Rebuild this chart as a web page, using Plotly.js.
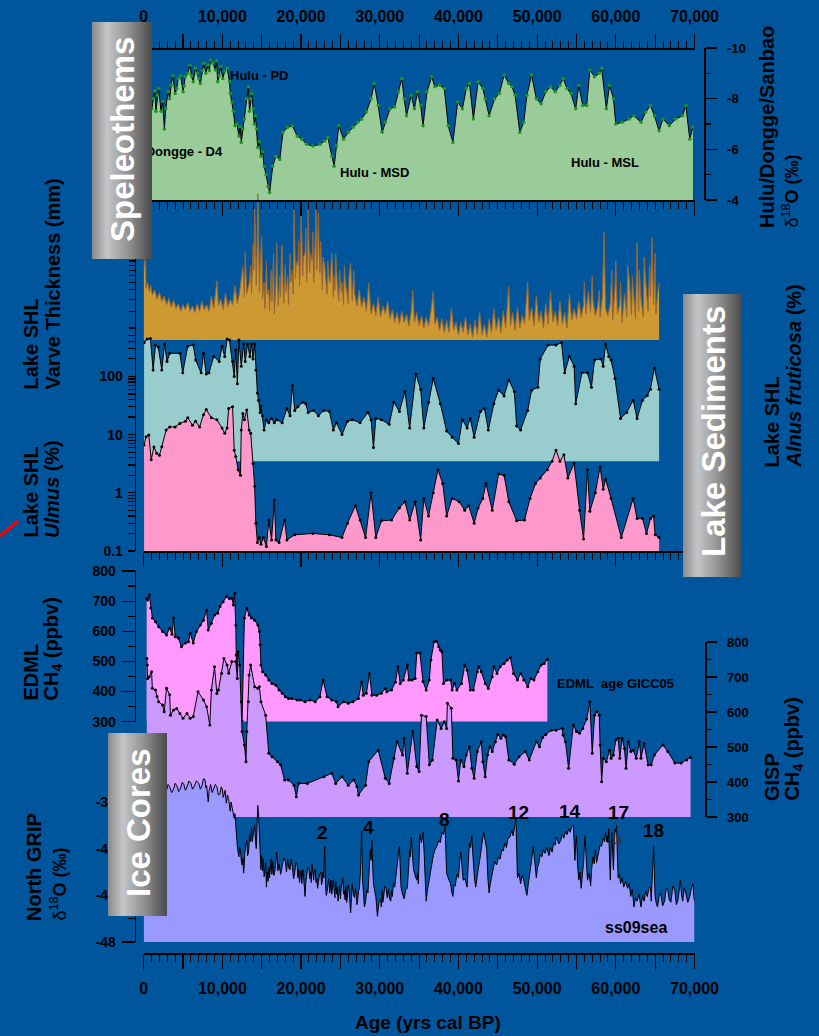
<!DOCTYPE html>
<html><head><meta charset="utf-8">
<script src="https://cdn.plot.ly/plotly-3.0.1.min.js"></script>
<style>html,body{margin:0;padding:0;background:#00569d;}#chart{width:819px;height:1036px;}</style>
</head><body><div id="chart"></div>
<script>
// ---------- DATA (age in ka BP, value) ----------
const spel = [[0.1,-7.9],[0.3,-8.3],[0.5,-7.4],[0.75,-7.2],[1.03,-7.6],[1.2,-8.0],[1.4,-8.3],[1.55,-7.5],[1.74,-8.13],[1.9,-8.4],[2.2,-7.5],[2.4,-7.9],[2.63,-6.8],[2.8,-7.6],[3.1,-8.27],[3.3,-8.0],[3.5,-8.53],[3.7,-8.9],[4.0,-8.2],[4.2,-8.4],[4.4,-8.8],[4.7,-8.9],[5.0,-8.27],[5.15,-8.5],[5.3,-8.87],[5.6,-9.0],[5.9,-9.33],[6.05,-8.9],[6.3,-8.67],[6.55,-9.2],[6.8,-9.0],[7.0,-8.8],[7.2,-8.6],[7.45,-9.1],[7.65,-9.4],[7.9,-9.0],[8.2,-9.33],[8.35,-9.1],[8.5,-9.53],[8.8,-9.4],[9.1,-9.13],[9.25,-9.5],[9.4,-8.67],[9.6,-8.9],[9.8,-9.27],[10.05,-8.8],[10.3,-9.07],[10.6,-9.2],[10.9,-8.67],[11.0,-8.2],[11.2,-7.87],[11.4,-7.5],[11.6,-6.93],[11.85,-7.0],[12.1,-6.53],[12.25,-6.9],[12.4,-6.27],[12.6,-6.8],[12.8,-7.2],[13.05,-8.0],[13.3,-8.47],[13.45,-7.5],[13.6,-8.0],[13.75,-8.2],[13.9,-7.6],[14.05,-7.0],[14.2,-7.33],[14.35,-6.8],[14.5,-6.07],[14.7,-6.3],[14.9,-5.73],[15.1,-5.9],[15.3,-5.33],[15.55,-5.0],[15.8,-4.53],[16.0,-4.3],[16.4,-5.33],[16.8,-5.73],[17.3,-5.6],[17.7,-6.67],[18.3,-6.87],[18.9,-6.93],[19.5,-6.53],[20.1,-6.4],[20.7,-6.2],[21.5,-6.13],[22.4,-6.2],[23.0,-6.33],[23.4,-6.47],[23.9,-5.73],[24.2,-5.33],[24.5,-6.13],[24.8,-6.93],[25.4,-6.4],[26.0,-6.67],[26.6,-6.87],[27.2,-7.07],[27.7,-7.2],[28.3,-7.47],[28.9,-8.0],[29.3,-8.6],[29.8,-7.73],[30.3,-6.67],[30.7,-7.07],[31.3,-7.6],[31.9,-7.67],[32.4,-8.27],[32.8,-8.8],[33.1,-8.0],[33.4,-7.33],[34.0,-8.13],[34.4,-7.6],[34.8,-8.27],[35.2,-7.73],[35.5,-6.93],[36.0,-8.27],[36.6,-8.87],[37.0,-8.47],[37.6,-8.53],[38.2,-8.4],[38.7,-6.93],[39.3,-6.27],[39.9,-7.87],[40.5,-7.6],[41.0,-8.4],[41.4,-8.6],[41.9,-7.2],[42.5,-8.67],[43.1,-8.4],[43.4,-8.0],[43.9,-7.33],[44.6,-8.0],[45.2,-8.2],[45.8,-8.93],[46.4,-8.6],[46.8,-8.47],[47.2,-8.13],[47.8,-6.67],[48.3,-7.07],[48.7,-8.13],[49.3,-8.93],[49.9,-8.0],[50.5,-7.8],[51.1,-8.27],[51.7,-8.47],[52.3,-8.27],[52.9,-8.53],[53.3,-8.8],[53.8,-8.4],[54.3,-8.2],[54.9,-7.6],[55.3,-8.53],[55.8,-7.73],[56.3,-7.73],[56.7,-9.13],[57.3,-8.87],[57.9,-9.0],[58.2,-9.2],[58.8,-7.6],[59.2,-8.53],[59.7,-8.0],[60.0,-7.0],[60.8,-7.07],[61.7,-7.2],[62.3,-7.33],[63.2,-7.07],[63.8,-7.47],[64.4,-7.73],[64.9,-7.33],[65.5,-6.73],[66.0,-7.2],[66.8,-6.93],[67.6,-7.2],[68.5,-7.33],[68.9,-7.73],[69.4,-6.4],[69.8,-6.87]];

const varve = [[0.0,7.5],[0.05,12],[0.15,9.0],[0.25,10],[0.3,5.2],[0.5,6.0],[0.7,4.8],[0.9,5.6],[1.1,4.4],[1.4,5.0],[1.7,4.0],[2.0,4.7],[2.3,3.8],[2.6,4.3],[2.9,3.5],[3.2,4.1],[3.5,3.3],[3.8,3.9],[4.1,3.2],[4.4,3.6],[4.7,3.0],[5.0,3.5],[5.3,3.1],[5.6,3.7],[5.9,3.0],[6.2,3.4],[6.5,2.9],[6.8,3.6],[7.1,3.0],[7.4,3.8],[7.7,3.1],[8.0,3.5],[8.3,3.0],[8.6,4.3],[8.9,3.2],[9.3,6.2],[9.5,3.4],[9.8,4.0],[10.1,3.1],[10.4,4.6],[10.7,3.3],[11.0,4.0],[11.3,3.5],[11.6,5.5],[11.9,3.6],[12.2,4.8],[12.4,6.5],[12.6,8.7],[12.8,4.2],[12.9,12.5],[13.0,7.5],[13.1,4.6],[13.4,5.8],[13.6,9],[13.7,4.5],[13.9,15],[14.0,8],[14.1,35],[14.2,20],[14.3,5.5],[14.4,12],[14.5,50],[14.6,25],[14.7,4.8],[14.8,9],[14.9,13],[15.0,18],[15.1,4.0],[15.3,6],[15.4,3.2],[15.6,10],[15.7,4.5],[15.9,5],[16.0,3.0],[16.2,8],[16.3,3.8],[16.5,12],[16.6,2.8],[16.8,6],[16.9,15.4],[17.0,9],[17.1,3.4],[17.3,7],[17.4,4.2],[17.5,11],[17.6,14.7],[17.7,6],[17.8,3.6],[18.0,9],[18.1,4.8],[18.3,7],[18.4,3.5],[18.6,12],[18.7,6.0],[18.9,8],[19.0,4.5],[19.1,34],[19.2,14],[19.3,6.5],[19.4,10],[19.6,9.0],[19.7,16],[19.8,5.5],[19.9,9],[20.0,30],[20.1,18],[20.2,7.0],[20.3,11],[20.5,12],[20.6,22],[20.7,6.0],[20.8,9],[20.9,34],[21.0,15],[21.1,7.5],[21.2,12],[21.4,10],[21.5,20],[21.6,6.0],[21.7,9],[21.8,18],[21.9,34],[22.0,8.0],[22.1,14],[22.2,31.6],[22.3,12],[22.4,7.5],[22.5,16],[22.6,8],[22.7,5.0],[22.8,11],[23.0,9.0],[23.1,7],[23.3,4.5],[23.4,10],[23.6,6.0],[23.7,6],[23.9,12],[24.0,9],[24.1,4.2],[24.2,7],[24.3,5.0],[24.4,12],[24.5,7.5],[24.6,6],[24.8,3.8],[24.9,8],[25.1,4.8],[25.2,6],[25.4,3.5],[25.5,9],[25.7,5.4],[25.8,5],[26.0,3.6],[26.1,7],[26.3,9.5],[26.4,5],[26.5,3.8],[26.7,8],[26.8,4.6],[27.1,3.4],[27.4,5.0],[27.7,3.3],[28.0,4.2],[28.3,3.0],[28.6,5.9],[28.9,2.8],[29.2,3.6],[29.5,2.7],[29.8,4.2],[30.1,2.6],[30.4,3.4],[30.7,2.8],[31.0,3.8],[31.3,2.5],[31.6,3.1],[31.9,2.3],[32.2,2.9],[32.5,2.2],[32.8,3.0],[33.1,2.3],[33.4,2.8],[33.7,2.1],[34.0,3.0],[34.2,5.0],[34.4,2.3],[34.7,2.9],[35.0,2.1],[35.3,2.7],[35.6,2.0],[35.9,2.6],[36.2,2.1],[36.5,3.0],[36.8,4.8],[37.0,2.2],[37.3,2.6],[37.6,1.9],[37.9,2.5],[38.2,1.8],[38.5,2.4],[38.8,1.8],[39.1,3.2],[39.4,1.9],[39.7,2.3],[40.0,1.7],[40.3,2.3],[40.6,1.8],[40.9,2.6],[41.2,1.7],[41.5,2.2],[41.8,1.6],[42.1,2.4],[42.4,1.7],[42.7,2.9],[43.0,1.7],[43.3,2.2],[43.6,1.6],[43.9,2.5],[44.2,1.8],[44.5,3.2],[44.8,1.9],[45.1,2.6],[45.4,1.8],[45.7,3.0],[46.0,2.0],[46.4,5.4],[46.6,2.1],[46.9,2.9],[47.2,1.9],[47.5,3.3],[47.8,2.0],[48.1,2.7],[48.4,2.2],[48.8,6.0],[49.0,2.4],[49.3,3.3],[49.6,2.1],[49.9,4.3],[50.2,2.3],[50.5,3.0],[50.8,2.0],[51.1,3.6],[51.4,2.2],[51.7,4.8],[52.0,2.3],[52.3,3.0],[52.6,2.1],[52.9,3.8],[53.2,2.2],[53.5,2.9],[53.8,2.0],[54.1,4.5],[54.4,2.4],[54.7,3.2],[55.0,2.5],[55.3,3.8],[55.6,2.6],[55.9,3.5],[56.0,6],[56.2,2.8],[56.5,4.8],[56.8,2.9],[57.0,7],[57.1,3.8],[57.4,2.7],[57.7,3.4],[57.9,5],[58.0,2.6],[58.3,4.2],[58.5,20],[58.7,3.2],[59.0,2.7],[59.3,3.6],[59.5,8],[59.6,2.4],[59.9,5.3],[60.0,10],[60.2,2.8],[60.5,3.5],[60.6,6],[60.8,2.3],[61.1,4.6],[61.4,2.6],[61.5,9],[61.7,6.5],[62.0,2.7],[62.1,7],[62.3,3.8],[62.5,2.5],[62.7,15.4],[62.9,3.0],[63.0,8],[63.2,4.0],[63.5,2.6],[63.6,11],[63.8,6.0],[64.1,3.0],[64.3,9],[64.4,4.2],[64.6,17.4],[64.8,3.5],[65.0,12],[65.1,2.8],[65.3,4.5],[65.5,5.9]];

const alnus = [[0.05,380],[0.45,440],[0.85,450],[1.2,129],[1.5,345],[1.85,320],[2.3,129],[2.65,360],[2.97,180],[3.3,250],[4.6,250],[4.96,115],[5.6,330],[6.3,345],[6.6,191],[7.3,115],[7.6,250],[7.95,110],[8.3,115],[8.9,220],[9.6,180],[9.95,330],[10.3,220],[10.6,440],[10.9,420],[11.3,180],[11.5,100],[11.7,284],[11.9,75],[12.1,420],[12.4,150],[12.7,360],[12.9,180],[13.2,360],[13.5,220],[13.7,360],[13.9,200],[14.1,360],[14.25,129],[14.45,52],[14.6,39],[14.8,24],[14.9,31],[15.1,21],[15.3,12],[15.6,17.8],[15.9,16],[16.25,19],[16.6,16],[16.9,18],[17.6,16],[18.2,28],[18.6,21],[18.9,70],[19.2,26],[19.6,30],[20.2,36],[20.6,34],[20.9,24],[21.6,26],[22.2,21],[22.9,26],[23.6,25],[24.1,12],[24.5,16],[25.2,10],[25.9,17],[26.5,18],[27.5,16],[28.5,24],[28.9,18],[29.2,6.0],[29.5,19],[30.2,18],[31.2,15],[31.8,36],[32.5,25],[33.2,55],[33.8,13],[34.6,110],[35.2,60],[35.6,13],[36.2,36],[36.8,92],[37.7,34],[38.5,11.5],[39.2,9],[40.0,7],[40.5,18],[41.1,13],[41.5,19],[42.0,9],[42.8,25],[43.3,28],[43.8,12],[44.5,34],[45.1,58],[45.8,46],[46.4,87],[47.1,55],[47.4,14],[47.9,12],[48.8,26],[49.3,58],[50.1,65],[50.4,200],[51.4,345],[52.4,345],[53.1,380],[53.5,115],[54.1,220],[54.7,150],[54.9,34],[55.7,115],[56.4,115],[56.9,65],[57.3,191],[58.1,200],[58.4,150],[58.7,360],[59.1,220],[59.4,191],[59.9,92],[60.6,19],[61.4,24],[62.2,39],[62.7,19],[63.4,39],[64.0,47],[64.4,60],[64.9,140],[65.5,60]];

const ulmus = [[0.05,6.6],[0.3,9.2],[0.65,9.8],[0.95,3.7],[1.3,6.1],[1.65,4.8],[2.0,4.4],[2.3,6.2],[2.85,12],[3.3,13.5],[4.0,13.5],[4.6,15.5],[5.3,17],[5.6,19.5],[6.2,14.5],[6.6,17],[7.1,13.5],[7.6,22],[7.95,27],[8.6,19.5],[9.3,18],[9.95,13],[10.3,10.5],[10.6,13],[10.8,28],[11.3,30],[11.5,5.4],[11.7,4.2],[12.0,2.5],[12.3,2.0],[12.4,12],[12.6,23],[12.8,18],[13.1,26.5],[13.4,12],[13.6,10.5],[13.9,3.2],[14.1,1.3],[14.25,0.3],[14.45,0.14],[14.7,0.17],[14.9,0.13],[15.2,0.17],[15.6,0.12],[15.9,0.34],[16.25,0.155],[16.6,0.75],[16.8,0.155],[17.2,0.14],[17.9,0.34],[18.2,0.155],[19.2,0.19],[21.5,0.2],[23.6,0.19],[25.2,0.17],[25.9,0.3],[26.9,0.6],[27.5,0.34],[28.2,0.17],[28.9,1.0],[29.5,0.17],[30.2,0.33],[31.5,0.34],[32.5,0.55],[33.2,0.7],[33.8,0.34],[34.5,0.7],[35.2,0.155],[35.6,0.8],[36.2,0.4],[36.8,1.0],[37.4,2.5],[38.0,1.45],[38.5,0.4],[39.2,0.8],[40.1,0.7],[40.8,0.5],[41.3,0.6],[42.0,0.3],[42.5,0.55],[43.1,0.8],[43.5,1.45],[44.3,0.5],[45.1,2.1],[45.8,2.0],[46.4,0.7],[47.4,0.33],[48.4,0.34],[49.1,0.8],[49.8,1.45],[50.4,1.8],[51.3,2.5],[51.9,3.5],[52.4,5.4],[52.9,3.5],[53.4,4.5],[53.9,1.8],[54.7,3.2],[55.4,0.5],[55.9,0.16],[56.4,2.5],[56.7,0.48],[57.4,1.0],[58.0,2.8],[58.4,1.15],[58.7,1.7],[59.4,0.8],[60.7,0.17],[62.2,0.8],[62.7,0.36],[63.4,0.36],[63.9,0.2],[64.4,0.36],[64.8,0.4],[65.0,0.19],[65.5,0.17]];

const edml = [[0.38,709],[0.5,704],[0.72,720],[0.9,677],[1.1,644],[1.5,632],[1.9,615],[2.4,599],[2.9,588],[3.3,611],[3.6,590],[3.8,644],[4.0,582],[4.4,578],[4.8,549],[5.3,561],[5.7,565],[5.9,594],[6.3,561],[6.7,599],[7.2,621],[7.6,637],[8.0,670],[8.2,604],[8.6,627],[9.0,654],[9.4,660],[9.7,682],[10.1,698],[10.5,715],[10.9,709],[11.2,710],[11.4,687],[11.55,726],[11.7,621],[11.75,521],[11.8,333],[11.9,303],[12.5,302],[12.8,644],[13.1,677],[13.4,654],[13.7,644],[14.1,637],[14.5,621],[14.7,599],[14.8,555],[14.9,488],[15.1,466],[15.5,455],[15.9,438],[16.3,427],[16.8,421],[17.2,405],[17.6,394],[18.0,383],[18.4,377],[18.8,377],[19.5,372],[19.9,372],[20.5,366],[21.1,372],[21.8,366],[22.4,383],[22.8,438],[23.3,383],[23.9,372],[24.5,366],[24.7,350],[25.4,366],[26.0,361],[26.6,366],[27.3,377],[27.7,432],[27.9,388],[28.3,394],[28.7,460],[29.0,388],[29.6,388],[30.2,394],[30.7,410],[30.9,399],[31.5,405],[32.0,432],[32.3,482],[32.6,427],[33.0,438],[33.5,488],[33.7,438],[34.1,438],[34.5,443],[34.7,528],[35.1,528],[35.5,433],[35.9,405],[36.3,438],[36.5,505],[36.9,565],[37.2,567],[37.5,549],[37.7,538],[37.9,532],[38.1,427],[38.5,438],[39.0,438],[39.2,405],[39.5,427],[39.8,405],[40.4,427],[40.8,488],[41.1,471],[41.5,405],[41.9,405],[42.4,466],[42.6,482],[42.9,466],[43.4,427],[43.8,410],[44.3,449],[44.5,482],[44.9,460],[45.3,482],[45.8,493],[46.2,505],[46.6,512],[47.0,460],[47.5,438],[47.9,460],[48.3,438],[48.8,416],[49.2,443],[49.6,438],[50.1,466],[50.5,488],[50.9,493],[51.3,507]];

const gisp = [[0.4,753],[0.45,734],[0.5,696],[0.7,701],[1.0,715],[1.1,668],[1.5,663],[1.7,644],[1.9,629],[2.4,620],[2.6,601],[2.9,668],[3.3,649],[3.4,591],[3.8,606],[4.2,610],[4.6,596],[5.0,582],[5.5,596],[5.9,582],[6.3,587],[6.9,658],[7.6,634],[8.0,615],[8.4,563],[8.6,663],[9.0,729],[9.3,653],[9.5,663],[9.9,711],[10.2,753],[10.6,734],[10.8,711],[11.2,744],[11.7,744],[11.9,696],[12.0,772],[12.2,734],[12.4,629],[12.5,544],[12.8,506],[13.0,458],[13.1,544],[13.3,629],[13.4,706],[13.6,734],[14.1,672],[14.5,668],[14.7,672],[14.9,629],[15.5,591],[15.9,482],[16.3,472],[17.0,458],[17.4,449],[17.9,406],[18.4,406],[19.1,391],[19.4,358],[19.7,396],[20.8,396],[22.9,415],[23.9,425],[24.4,396],[25.2,415],[26.0,391],[26.7,406],[27.1,387],[27.3,363],[28.2,391],[28.6,458],[29.8,491],[30.7,411],[31.2,396],[31.8,468],[32.2,515],[32.9,477],[33.1,525],[33.5,425],[34.2,544],[34.7,444],[35.0,430],[35.3,591],[35.9,587],[36.3,449],[36.7,463],[37.3,577],[37.8,553],[38.2,572],[38.5,553],[38.6,625],[39.1,611],[39.3,468],[39.7,463],[40.0,403],[40.3,463],[40.7,444],[41.0,477],[41.4,501],[41.7,439],[42.0,411],[42.4,487],[42.9,515],[43.1,458],[43.4,415],[43.7,477],[44.0,501],[44.3,487],[44.7,515],[45.0,536],[45.4,525],[45.7,534],[46.0,529],[46.4,463],[47.1,451],[47.7,472],[48.5,487],[49.0,463],[49.9,515],[50.3,501],[50.7,527],[51.1,536],[51.8,548],[52.4,548],[53.2,553],[53.3,534],[53.6,515],[54.0,439],[54.6,563],[55.0,544],[55.4,539],[55.8,553],[56.3,580],[56.7,629],[57.0,482],[57.3,591],[57.6,601],[57.9,591],[58.0,506],[58.2,401],[58.4,468],[58.8,458],[59.2,491],[59.4,468],[59.7,477],[60.0,520],[60.3,525],[60.5,468],[60.8,525],[61.1,496],[61.3,439],[61.6,515],[61.9,487],[62.2,491],[62.6,468],[63.0,515],[63.2,468],[63.6,510],[64.1,449],[64.5,449],[64.9,477],[66.0,506],[66.6,487],[67.5,454],[68.3,454],[69.0,463],[69.5,470]];

const ngrip = [[0.0,-34.8],[0.2,-35.3],[0.4,-35.1],[0.6,-34.6],[0.8,-34.7],[1.0,-35.3],[1.2,-35.2],[1.4,-34.7],[1.6,-34.9],[1.8,-35.4],[2.0,-35.1],[2.2,-34.6],[2.4,-34.8],[2.65,-35.3],[2.9,-35.0],[3.1,-34.5],[3.3,-34.7],[3.55,-35.2],[3.8,-34.9],[4.0,-34.4],[4.2,-34.6],[4.45,-35.1],[4.7,-34.8],[4.9,-34.3],[5.1,-34.5],[5.3,-35.0],[5.5,-34.7],[5.75,-34.2],[6.0,-34.4],[6.2,-34.9],[6.4,-34.7],[6.7,-34.2],[7.0,-34.4],[7.2,-34.9],[7.4,-34.6],[7.6,-34.0],[7.8,-34.1],[7.9,-34.8],[8.0,-34.6],[8.2,-36.0],[8.3,-35.1],[8.4,-34.8],[8.5,-34.5],[8.7,-35.2],[8.9,-34.9],[9.1,-34.5],[9.3,-34.7],[9.5,-35.4],[9.7,-35.3],[9.85,-34.7],[10.0,-34.9],[10.1,-35.6],[10.2,-35.4],[10.35,-35.0],[10.5,-36.1],[10.65,-35.4],[10.8,-35.8],[10.9,-36.4],[11.0,-36.8],[11.1,-36.0],[11.2,-36.3],[11.35,-37.0],[11.5,-37.4],[11.6,-37.0],[11.7,-38.3],[11.8,-39.2],[11.9,-39.8],[12.0,-40.3],[12.1,-40.7],[12.2,-39.9],[12.3,-40.2],[12.4,-41.0],[12.5,-41.4],[12.6,-40.8],[12.7,-42.1],[12.8,-41.2],[12.85,-40.4],[13.0,-39.6],[13.1,-39.3],[13.2,-40.6],[13.3,-40.4],[13.4,-39.5],[13.5,-38.8],[13.6,-39.4],[13.7,-38.2],[13.8,-39.4],[13.9,-39.0],[14.0,-38.5],[14.1,-38.0],[14.2,-39.1],[14.3,-40.0],[14.4,-38.2],[14.5,-36.3],[14.6,-37.1],[14.7,-38.8],[14.8,-40.1],[14.9,-41.8],[15.0,-40.6],[15.1,-41.9],[15.2,-40.9],[15.3,-42.4],[15.4,-42.1],[15.5,-41.2],[15.6,-43.3],[15.7,-42.0],[15.8,-42.8],[15.9,-41.6],[16.0,-42.5],[16.1,-41.8],[16.2,-40.9],[16.3,-42.2],[16.4,-41.1],[16.55,-42.3],[16.7,-41.8],[16.8,-41.0],[16.9,-40.3],[17.05,-41.9],[17.2,-41.3],[17.4,-42.2],[17.6,-41.6],[17.8,-40.8],[18.0,-41.1],[18.15,-42.0],[18.3,-40.9],[18.45,-41.7],[18.6,-41.8],[18.75,-40.9],[18.9,-41.6],[19.05,-42.6],[19.2,-42.0],[19.35,-41.2],[19.5,-41.4],[19.6,-42.5],[19.7,-41.8],[19.8,-42.9],[19.9,-42.4],[20.0,-41.9],[20.1,-43.0],[20.2,-41.8],[20.3,-42.2],[20.4,-43.2],[20.5,-44.1],[20.6,-42.9],[20.7,-42.5],[20.85,-41.6],[21.0,-41.7],[21.1,-42.6],[21.2,-42.0],[21.3,-42.9],[21.4,-41.3],[21.5,-42.2],[21.6,-42.7],[21.7,-41.9],[21.8,-41.8],[21.9,-42.9],[22.0,-42.6],[22.1,-43.4],[22.2,-43.0],[22.35,-42.2],[22.5,-42.0],[22.6,-43.1],[22.7,-42.8],[22.8,-42.0],[22.9,-42.5],[23.0,-39.8],[23.1,-43.0],[23.2,-44.0],[23.3,-43.7],[23.4,-42.9],[23.5,-42.6],[23.65,-43.8],[23.8,-42.7],[23.9,-43.9],[24.0,-43.3],[24.1,-42.7],[24.2,-43.5],[24.3,-44.2],[24.4,-42.8],[24.5,-43.9],[24.6,-43.3],[24.7,-44.5],[24.8,-43.9],[24.9,-43.1],[25.0,-44.3],[25.1,-43.4],[25.3,-42.5],[25.4,-43.9],[25.5,-43.6],[25.6,-44.4],[25.7,-43.2],[25.8,-44.6],[25.9,-44.0],[26.0,-43.1],[26.1,-43.5],[26.2,-44.4],[26.3,-45.5],[26.4,-44.2],[26.5,-43.0],[26.65,-44.0],[26.8,-44.2],[26.9,-43.4],[27.0,-43.8],[27.1,-44.8],[27.2,-44.4],[27.3,-43.6],[27.4,-43.5],[27.55,-42.0],[27.7,-38.5],[27.8,-42.5],[27.9,-44.1],[28.05,-45.0],[28.2,-44.5],[28.35,-43.5],[28.5,-43.8],[28.65,-42.3],[28.8,-40.1],[28.9,-41.0],[29.0,-39.3],[29.1,-41.5],[29.2,-43.0],[29.35,-43.6],[29.5,-44.1],[29.6,-44.9],[29.7,-45.8],[29.9,-44.6],[30.1,-44.3],[30.2,-45.0],[30.3,-43.6],[30.4,-44.6],[30.5,-44.1],[30.65,-43.2],[30.8,-43.4],[30.95,-44.2],[31.1,-43.5],[31.25,-44.3],[31.4,-44.5],[31.5,-43.6],[31.6,-44.1],[31.75,-42.9],[31.9,-43.3],[32.05,-42.2],[32.2,-41.6],[32.35,-40.6],[32.5,-39.8],[32.6,-41.5],[32.7,-43.3],[32.9,-43.9],[33.1,-44.3],[33.3,-43.5],[33.5,-43.4],[33.65,-41.8],[33.8,-40.1],[33.9,-40.7],[34.0,-39.0],[34.15,-40.5],[34.3,-41.8],[34.5,-42.3],[34.7,-42.7],[34.8,-42.1],[34.9,-43.0],[35.0,-40.9],[35.1,-38.8],[35.3,-39.5],[35.5,-38.6],[35.65,-40.5],[35.8,-42.7],[35.9,-44.5],[36.05,-43.6],[36.2,-43.0],[36.4,-42.1],[36.6,-41.6],[36.8,-40.6],[37.0,-40.1],[37.25,-39.8],[37.5,-39.3],[37.7,-39.5],[37.9,-38.6],[38.1,-38.8],[38.3,-38.1],[38.4,-39.9],[38.5,-42.1],[38.75,-42.6],[39.0,-43.0],[39.15,-43.7],[39.3,-44.1],[39.45,-43.1],[39.6,-43.2],[39.8,-42.2],[40.0,-42.5],[40.15,-41.2],[40.3,-40.3],[40.45,-41.5],[40.6,-42.7],[40.85,-42.6],[41.1,-43.3],[41.25,-41.2],[41.4,-39.5],[41.55,-39.9],[41.7,-38.9],[41.8,-40.2],[41.9,-41.3],[42.05,-42.6],[42.2,-43.3],[42.35,-42.4],[42.5,-41.8],[42.7,-41.0],[42.9,-40.1],[43.05,-39.4],[43.2,-38.6],[43.4,-39.3],[43.6,-40.1],[43.75,-42.6],[43.9,-43.8],[44.05,-43.0],[44.2,-42.5],[44.4,-41.6],[44.6,-41.1],[44.85,-41.4],[45.1,-40.7],[45.3,-40.9],[45.5,-40.1],[45.7,-40.2],[45.9,-39.5],[46.1,-39.9],[46.3,-39.1],[46.55,-39.0],[46.8,-38.4],[46.95,-38.9],[47.1,-38.0],[47.2,-37.9],[47.3,-37.4],[47.4,-40.5],[47.5,-42.5],[47.7,-42.1],[47.9,-43.0],[48.1,-42.3],[48.3,-42.7],[48.5,-43.4],[48.7,-44.0],[48.9,-42.9],[49.1,-42.1],[49.3,-41.0],[49.5,-39.8],[49.7,-41.4],[49.9,-42.5],[50.05,-41.6],[50.2,-41.3],[50.4,-40.5],[50.6,-40.7],[50.8,-40.1],[51.0,-40.4],[51.25,-39.9],[51.5,-40.6],[51.7,-39.9],[51.9,-40.3],[52.1,-39.5],[52.3,-39.7],[52.4,-39.0],[52.5,-39.1],[52.75,-39.6],[53.0,-39.3],[53.2,-38.8],[53.4,-39.1],[53.6,-38.5],[53.8,-38.8],[54.0,-38.3],[54.2,-38.6],[54.4,-38.1],[54.6,-38.0],[54.7,-39.4],[54.8,-41.0],[54.9,-39.6],[55.0,-38.9],[55.15,-41.5],[55.3,-42.7],[55.45,-42.0],[55.6,-43.4],[55.75,-42.2],[55.9,-41.3],[56.0,-39.8],[56.1,-38.9],[56.25,-41.0],[56.4,-42.7],[56.6,-42.1],[56.8,-43.2],[56.95,-41.6],[57.1,-40.7],[57.25,-41.3],[57.4,-40.1],[57.55,-41.2],[57.7,-40.7],[57.85,-39.9],[58.0,-39.7],[58.2,-39.8],[58.4,-39.1],[58.55,-39.4],[58.7,-38.6],[58.8,-39.4],[58.9,-38.9],[59.0,-39.5],[59.1,-38.3],[59.2,-40.8],[59.3,-42.7],[59.4,-40.2],[59.5,-38.6],[59.6,-40.3],[59.7,-41.8],[59.8,-39.6],[59.9,-38.3],[60.0,-38.6],[60.1,-38.0],[60.2,-40.6],[60.3,-42.5],[60.45,-42.2],[60.6,-43.0],[60.8,-42.5],[61.0,-43.3],[61.25,-42.8],[61.5,-43.4],[61.7,-43.0],[61.9,-44.1],[62.1,-43.5],[62.3,-45.0],[62.5,-44.2],[62.7,-44.5],[62.95,-43.9],[63.2,-45.0],[63.4,-44.0],[63.6,-44.5],[63.8,-43.6],[64.0,-44.1],[64.2,-43.4],[64.4,-43.3],[64.5,-44.5],[64.65,-42.5],[64.8,-39.8],[64.9,-42.2],[65.0,-44.1],[65.15,-44.7],[65.3,-45.0],[65.5,-44.1],[65.7,-43.8],[65.95,-44.9],[66.2,-44.5],[66.4,-43.4],[66.6,-43.5],[66.8,-44.4],[67.0,-44.6],[67.25,-43.2],[67.5,-43.6],[67.7,-44.8],[67.9,-44.4],[68.05,-43.6],[68.2,-42.7],[68.35,-43.9],[68.5,-44.5],[68.7,-43.4],[68.9,-43.8],[69.15,-44.6],[69.4,-44.1],[69.6,-43.4],[69.8,-43.0],[69.9,-44.0],[70.0,-44.5]];

// tick labels
const ageTickVals = [0,5000,10000,15000,20000,25000,30000,35000,40000,45000,50000,55000,60000,65000,70000];
const ageTickText = ['0','','10,000','','20,000','','30,000','','40,000','','50,000','','60,000','','70,000'];
const spelTickVals = [-10,-8,-6,-4];
const spelTickText = ['-10','-8','-6','-4'];
const ngripTickVals = [-48,-44,-40,-36];
const ngripTickText = ['-48','-44','-40','-36'];
const ch4TickVals = [300,400,500,600,700,800];
const lakeTickVals = [0.1,0.2,0.3,0.4,0.5,0.6,0.7,0.8,0.9,1,2,3,4,5,6,7,8,9,10,20,30,40,50,60,70,80,90,100,200,300,400,500];
const lakeTickText = ['0.1','','','','','','','','','1','','','','','','','','','10','','','','','','','','','100','','','',''];
const varveTickVals = [2,3,4,5,6,7,8,9,10,20,30,40,50];

// ---------- LAYOUT HELPERS ----------
const W = 819, H = 1036;
const FONT = 'Liberation Sans, Arial, Helvetica, sans-serif';
const px = x => x / W;
const py = y => 1 - y / H;
const XDOM = [px(143.7), px(694.5)];

function area(pairs, floor, xa, ya, fillcolor, line, marker) {
  const s = pairs.slice().sort((a, b) => a[0] - b[0]);
  const xs = s.map(p => p[0] * 1000);
  const ys = s.map(p => p[1]);
  const base = {type:'scatter', mode:'lines', x:[xs[0], xs[xs.length-1]], y:[floor, floor],
    xaxis:xa, yaxis:ya, line:{width:0, color:fillcolor}, hoverinfo:'skip', showlegend:false};
  const main = {type:'scatter', mode: marker ? 'lines+markers' : 'lines', x:xs, y:ys,
    xaxis:xa, yaxis:ya, fill:'tonexty', fillcolor:fillcolor, line:line,
    hoverinfo:'skip', showlegend:false};
  if (marker) main.marker = marker;
  return [base, main];
}

const blkLine = {color:'#000', width:1};
const traces = [].concat(
  area(edml, 300, 'x', 'y', '#ff99ff', blkLine, {color:'#000', size:3}),
  area(gisp, 300, 'x', 'y6', '#cc99ff', blkLine, {color:'#000', size:3}),
  area(ngrip, -48, 'x', 'y7', '#9999ff', blkLine, undefined),
  area(spel, -4, 'x2', 'y2', '#99cc99', blkLine, {color:'#1e961e', size:3.5}),
  area(varve, 1.5, 'x3', 'y3', '#cc9933', {color:'#9a6633', width:1}, undefined),
  area(alnus, 3.5, 'x4', 'y4', '#99cccc', blkLine, {color:'#000', size:3}),
  area(ulmus, 0.1, 'x4', 'y4', '#ff99cc', blkLine, {color:'#000', size:3})
);
traces.push({type:'scatter', mode:'text', x:[250], y:[-5.86], text:['Dongge - D4'],
  textposition:'middle right', xaxis:'x2', yaxis:'y2', cliponaxis:false, hoverinfo:'skip',
  textfont:{family:FONT, size:13, color:'#000', weight:'bold'}, showlegend:false});

const tickFontX = {family:FONT, size:16, color:'#000', weight:'bold'};
const tickFontL = {family:FONT, size:14, color:'#000', weight:'bold'};
const tickFontR = {family:FONT, size:13, color:'#000', weight:'bold'};

function xAxis(pos, side, labels) {
  return {domain:XDOM, range:[0,70000], anchor:'free', position:pos, side:side,
    showline:true, linecolor:'#000', linewidth:1.5, showgrid:false, zeroline:false,
    tickmode:'array', tickvals:ageTickVals, ticktext:ageTickText, ticks:'outside',
    ticklen:14, tickwidth:1.2, tickcolor:'#000', showticklabels:labels, tickfont:tickFontX,
    ticklabelstandoff: 6,
    minor:{tickmode:'linear', tick0:0, dtick:1000, ticks:'outside', ticklen:7, tickwidth:1, tickcolor:'#000'}};
}
function yAxis(dom, range, pos, side, extra) {
  return Object.assign({domain:[py(dom[0]), py(dom[1])], range:range, anchor:'free', position:pos,
    side:side, showline:true, linecolor:'#000', linewidth:1.5, showgrid:false, zeroline:false,
    ticks:'outside', tickcolor:'#000', tickwidth:1.2}, extra);
}

const layout = {
  width:W, height:H, margin:{l:0,r:0,t:0,b:0},
  paper_bgcolor:'#00569d', plot_bgcolor:'rgba(0,0,0,0)', showlegend:false, hovermode:false,
  font:{family:FONT, color:'#000'},
  xaxis: xAxis(py(953), 'bottom', true),
  xaxis2: xAxis(py(48), 'top', true),
  xaxis3: xAxis(py(200), 'bottom', false),
  xaxis4: xAxis(py(551), 'bottom', false),
  yaxis: yAxis([721.7, 571], [300,800], px(134.7), 'left',
    {tickmode:'array', tickvals:ch4TickVals, ticklen:13, tickfont:tickFontL, ticklabelstandoff:3,
     minor:{tickmode:'linear', tick0:0, dtick:50, ticks:'outside', ticklen:7, tickcolor:'#000'}}),
  yaxis2: yAxis([200, 48], [-4,-10], px(704), 'right',
    {tickmode:'array', tickvals:spelTickVals, ticktext:spelTickText, ticklen:11, tickfont:tickFontR,
     ticklabelstandoff:8, minor:{tickmode:'linear', tick0:0, dtick:1, ticks:'outside', ticklen:5, tickcolor:'#000'}}),
  yaxis3: yAxis([340, 190], [Math.log10(1.5), 1.7396], px(134.5), 'left',
    {type:'log', tickmode:'array', tickvals:varveTickVals, ticklen:6, showticklabels:false}),
  yaxis4: yAxis([551, 335], [-1, 2.7113], px(134.7), 'left',
    {type:'log', tickmode:'array', tickvals:lakeTickVals, ticktext:lakeTickText, ticklen:7,
     tickfont:tickFontL, ticklabelstandoff:2}),
  yaxis6: yAxis([817, 642], [300,800], px(705), 'right',
    {tickmode:'array', tickvals:ch4TickVals, ticklen:10, tickfont:tickFontR, ticklabelstandoff:8,
     minor:{tickmode:'linear', tick0:0, dtick:50, ticks:'outside', ticklen:5, tickcolor:'#000'}}),
  yaxis7: yAxis([942, 770], [-48, -33.26], px(134.7), 'left',
    {tickmode:'array', tickvals:ngripTickVals, ticktext:ngripTickText, ticklen:13, tickfont:tickFontL,
     ticklabelstandoff:3, minor:{tickmode:'linear', tick0:0, dtick:2, ticks:'outside', ticklen:7, tickcolor:'#000'}}),
  shapes:[{type:'line', xref:'paper', yref:'paper', x0:px(0), y0:py(536), x1:px(18), y1:py(521),
    line:{color:'#ff0000', width:3}}],
  images:[], annotations:[]
};

const boxSvg = '<svg xmlns="http://www.w3.org/2000/svg" width="60" height="240" viewBox="0 0 60 240" preserveAspectRatio="none">' +
  '<defs><linearGradient id="g" x1="0" x2="1" y1="0" y2="0">' +
  '<stop offset="0" stop-color="#8a8a8a"/><stop offset="0.25" stop-color="#c3c5c8"/>' +
  '<stop offset="0.6" stop-color="#939393"/><stop offset="1" stop-color="#4a4a4a"/></linearGradient></defs>' +
  '<rect width="60" height="240" fill="url(#g)"/></svg>';
const boxSrc = 'data:image/svg+xml;base64,' + btoa(boxSvg);
function box(x0, y0, x1, y1) {
  layout.images.push({source:boxSrc, xref:'paper', yref:'paper', x:px(x0), y:py(y0),
    sizex:px(x1)-px(x0), sizey:py(y0)-py(y1), xanchor:'left', yanchor:'top',
    sizing:'stretch', layer:'above'});
}
box(92, 22, 152, 259);
box(683, 294, 741.5, 577);
box(108, 733, 167, 916);

function ann(text, x, y, size, opts) {
  layout.annotations.push(Object.assign({text:text, x:px(x), y:py(y), xref:'paper', yref:'paper',
    showarrow:false, xanchor:'center', yanchor:'middle',
    font:{family:FONT, size:size, color:'#000', weight:'bold'}}, opts || {}));
}
function rot(text, x, ybottom, size) {
  ann(text, x, ybottom, size, {textangle:-90, yanchor:'bottom', align:'left'});
}
const d18 = '<span style="font-weight:normal">δ<sup>18</sup></span>O (‰)';
rot('Lake SHL', 30, 392, 20);
rot('Varve Thickness (mm)', 52, 392, 20);
rot('Lake SHL', 30, 540, 20);
rot('<i>Ulmus</i> (%)', 52, 540, 20);
rot('EDML', 30, 703, 20);
rot('CH<sub>4</sub> (ppbv)', 52, 703, 20);
rot('North GRIP', 34, 923, 20);
rot(d18, 59, 922, 18);
rot('Hulu/Dongge/Sanbao', 767, 230, 20);
rot(d18, 791, 230, 18);
rot('Lake SHL', 771, 470, 20);
rot('<i>Alnus fruticosa</i> (%)', 793, 470, 20);
rot('GISP', 772, 803, 20);
rot('CH<sub>4</sub> (ppbv)', 793, 803, 20);
const white = {family:FONT, size:33, color:'#ffffff', weight:'bold'};
ann('Speleothems', 123, 140, 33, {textangle:-90, font:white});
ann('Lake Sediments', 713, 432, 33, {textangle:-90, font:white});
ann('Ice Cores', 138, 823, 33, {textangle:-90, font:white});
ann('Hulu - PD', 259, 75, 13);
ann('Hulu - MSD', 374, 172, 13);
ann('Hulu - MSL', 605, 163, 13);
ann('EDML\u00a0 age GICC05', 615, 683, 13);
ann('ss09sea', 636, 927, 16);
ann('2', 322, 832, 19); ann('4', 368, 827, 19); ann('8', 445, 819, 19);
ann('12', 518, 812, 19); ann('14', 570, 811, 19); ann('17', 618, 812, 19);
ann('18', 653, 830, 19);
ann('16', 617, 840, 10, {font:{family:FONT, size:10, color:'#333', weight:'bold'}});
ann('Age (yrs cal BP)', 428, 1022, 19);

Plotly.newPlot('chart', traces, layout, {displayModeBar:false, staticPlot:true});
</script></body></html>
